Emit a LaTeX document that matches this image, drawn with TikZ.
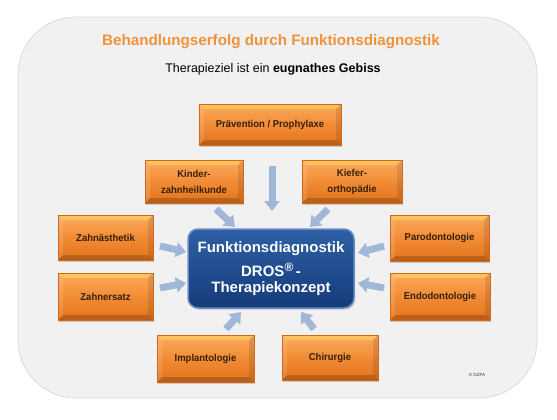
\documentclass[tikz,border=0pt]{standalone}
\usepackage{fontspec}
\setmainfont{Liberation Sans}
\newfontfamily\boxfont[FakeStretch=0.95]{Liberation Sans}
\usetikzlibrary{arrows.meta,shadows}
\definecolor{bgfill}{HTML}{F1F1F1}
\definecolor{bgedge}{HTML}{DADADA}
\definecolor{titleorange}{HTML}{F0923C}
\definecolor{otop}{HTML}{FBAA5E}
\definecolor{omid}{HTML}{F28C36}
\definecolor{obot}{HTML}{E2731C}
\definecolor{oedge}{HTML}{D0691A}
\definecolor{otext}{HTML}{35200B}
\definecolor{ctop}{HTML}{2E60A6}
\definecolor{cbot}{HTML}{153B78}
\definecolor{cedge}{HTML}{6A8DC8}
\definecolor{arrowblue}{HTML}{A2B6D8}
\tikzset{
  obox/.style={draw=oedge, line width=0.6pt, top color=otop, bottom color=obot, middle color=omid,
    font=\boxfont\bfseries\fontsize{10}{16}\selectfont, text=otext, align=center, inner sep=2pt,
    drop shadow={opacity=0.35, shadow xshift=1.2pt, shadow yshift=-1.6pt},
    path picture={
      \fill[yellow!60!white,opacity=0.35] (path picture bounding box.north west) -- (path picture bounding box.north east)
        -- ([shift={(-5pt,-5pt)}]path picture bounding box.north east) -- ([shift={(5pt,-5pt)}]path picture bounding box.north west) -- cycle;
      \fill[black,opacity=0.18] (path picture bounding box.south west) -- (path picture bounding box.south east)
        -- ([shift={(-5pt,5pt)}]path picture bounding box.south east) -- ([shift={(5pt,5pt)}]path picture bounding box.south west) -- cycle;
      \fill[white,opacity=0.12] (path picture bounding box.north west) -- (path picture bounding box.south west)
        -- ([shift={(5pt,5pt)}]path picture bounding box.south west) -- ([shift={(5pt,-5pt)}]path picture bounding box.north west) -- cycle;
      \fill[black,opacity=0.10] (path picture bounding box.north east) -- (path picture bounding box.south east)
        -- ([shift={(-5pt,5pt)}]path picture bounding box.south east) -- ([shift={(-5pt,-5pt)}]path picture bounding box.north east) -- cycle;
    }},
  cbox/.style={rounded corners=10pt, draw=cedge, line width=1.5pt, top color=ctop, bottom color=cbot,
    text=white, font=\bfseries\fontsize{15}{16}\selectfont, align=center, inner sep=2pt,
    drop shadow={opacity=0.35, shadow xshift=1.2pt, shadow yshift=-1.6pt}},
  barrow/.style={draw=arrowblue, line width=7pt, -{Triangle[width=15pt,length=10pt]}}
}
\begin{document}
\begin{tikzpicture}[x=1pt,y=-1pt]
\useasboundingbox (0,0) rectangle (557,420);
% background
\node[draw=bgedge, fill=bgfill, rounded corners=58pt, line width=0.8pt, minimum width=519pt, minimum height=381pt, inner sep=0pt] (bg) at (277.5,207.5) {};
% titles
\node[text=titleorange, font=\bfseries\fontsize{15.2}{18}\selectfont] (title) at (271,41.5) {Behandlungserfolg durch Funktionsdiagnostik};
\node[font=\fontsize{12.5}{15}\selectfont] (sub) at (273,69) {Therapieziel ist ein \textbf{eugnathes Gebiss}};
% boxes
\node[obox, minimum width=142pt, minimum height=41pt] (prae) at (270,124.5) {Prävention / Prophylaxe};
\node[obox, minimum width=98pt, minimum height=43pt] (kinder) at (194,181.5) {Kinder-\\zahnheilkunde};
\node[obox, minimum width=100pt, minimum height=43pt] (kiefer) at (352,181.5) {Kiefer-\\orthopädie};
\node[obox, minimum width=95pt, minimum height=45pt] (aesth) at (105.5,237.5) {Zahnästhetik};
\node[obox, minimum width=95pt, minimum height=47pt] (ersatz) at (105.5,296.5) {Zahnersatz};
\node[obox, minimum width=99pt, minimum height=46pt] (paro) at (439.5,238) {Parodontologie};
\node[obox, minimum width=100pt, minimum height=47pt] (endo) at (440,296.5) {Endodontologie};
\node[obox, minimum width=97pt, minimum height=47pt] (impl) at (205.5,358.5) {Implantologie};
\node[obox, minimum width=96pt, minimum height=45pt] (chir) at (330,357.5) {Chirurgie};
% centre
\node[cbox, minimum width=166pt, minimum height=79pt] (center) at (271,268.5)
  {Funktionsdiagnostik\\[7pt]DROS\raisebox{5pt}{\fontsize{12}{12}\selectfont ®}\,-\\Therapiekonzept};
% arrow ends
\coordinate (t1) at (272,166); \coordinate (h1) at (272,211);
\coordinate (t2) at (216,209); \coordinate (h2) at (235,227);
\coordinate (t3) at (328,209); \coordinate (h3) at (310,227);
\coordinate (t4) at (160,246); \coordinate (h4) at (186,252);
\coordinate (t5) at (160,288); \coordinate (h5) at (186,283);
\coordinate (t6) at (384,246); \coordinate (h6) at (358,253);
\coordinate (t7) at (384,288); \coordinate (h7) at (358,283);
\coordinate (t8) at (226,329); \coordinate (h8) at (241,312);
\coordinate (t9) at (314,329); \coordinate (h9) at (301,312);
\foreach \i in {1,...,9} \draw[barrow] (t\i) -- (h\i);
% copyright
\node[font=\fontsize{4.5}{5}\selectfont, text=black!80] (copy) at (477,375) {© GZFA};
\end{tikzpicture}
\end{document}
